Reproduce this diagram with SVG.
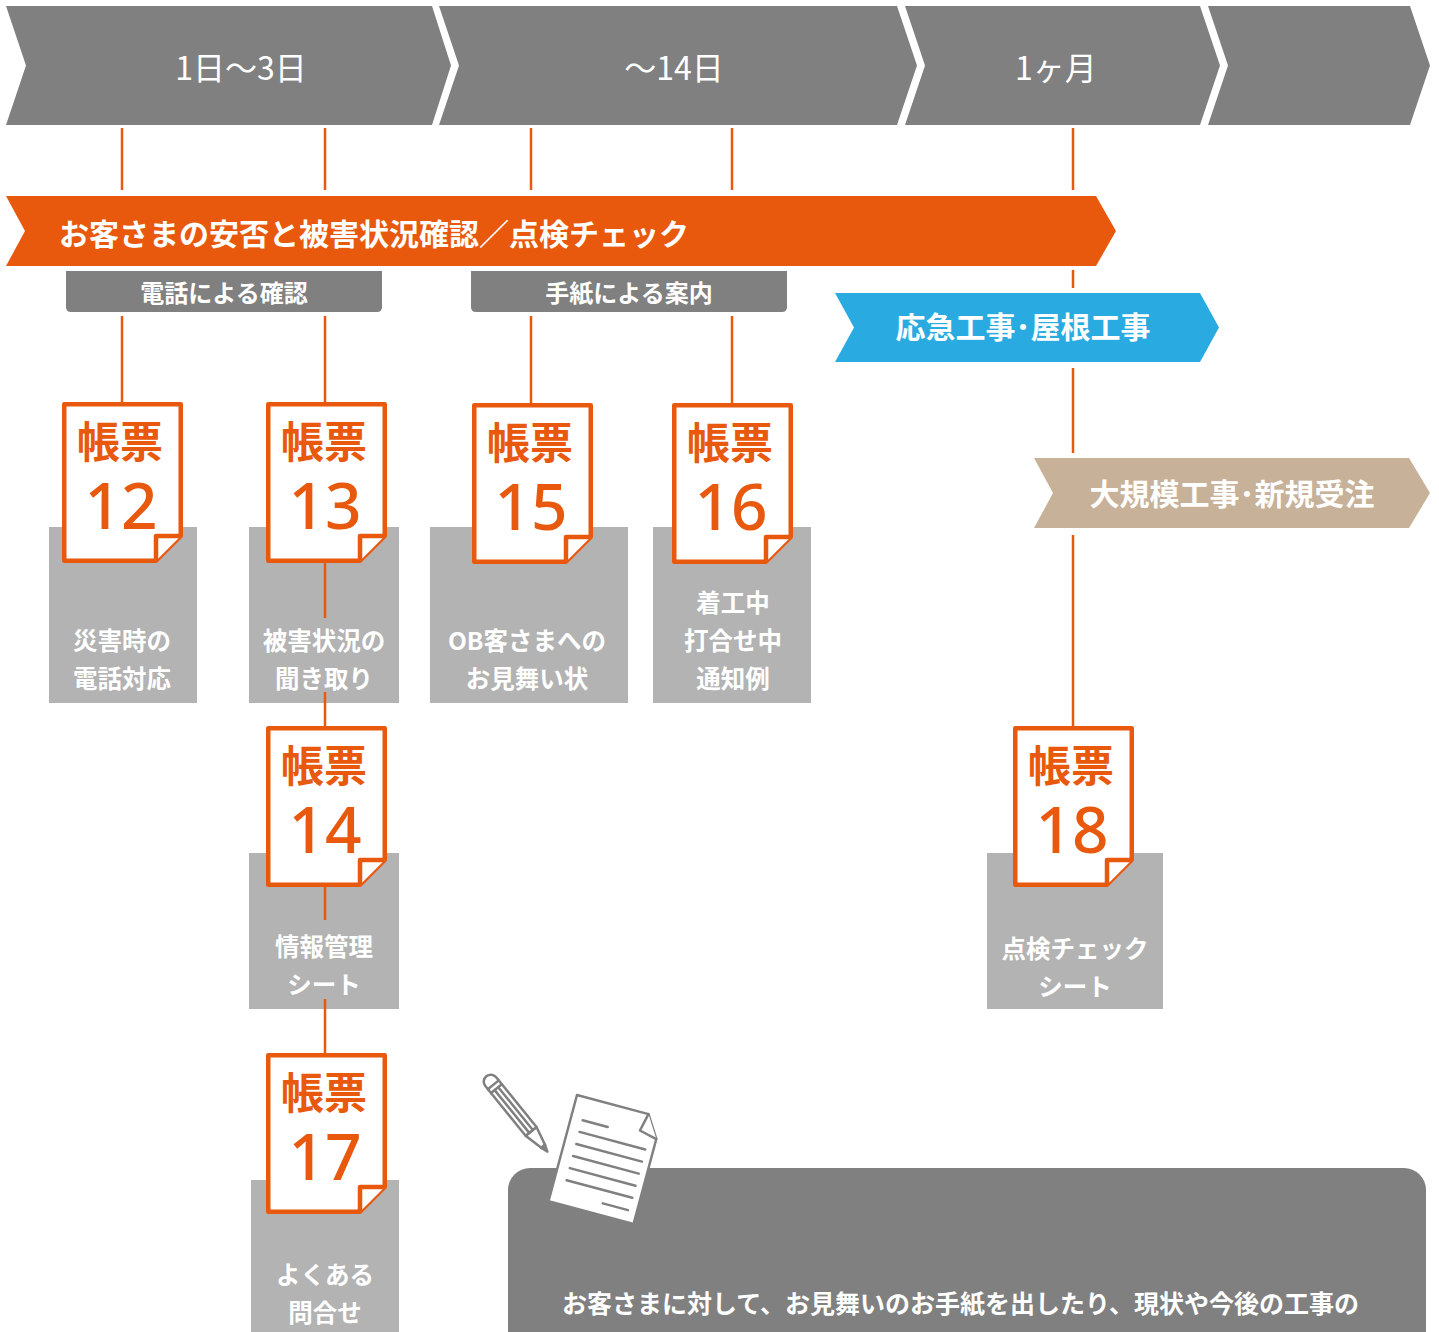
<svg xmlns="http://www.w3.org/2000/svg" width="1439" height="1332" viewBox="0 0 1439 1332">
  <style>
    text { font-family: "Noto Sans CJK JP", "Noto Sans", "Liberation Sans", sans-serif; }
    .phase { fill: #808080; }
    .phase-t { fill: #ffffff; font-size: 32px; font-weight: 400; text-anchor: middle; }
    .band-t { fill: #ffffff; font-size: 30px; font-weight: 700; }
    .label { fill: #808080; }
    .label-t { fill: #ffffff; font-size: 24px; font-weight: 700; text-anchor: middle; }
    .desc { fill: #b3b3b3; }
    .desc-t { fill: #ffffff; font-size: 24.5px; font-weight: 600; text-anchor: middle; }
    .doc { fill: #ffffff; stroke: #e8590d; stroke-width: 4.5; stroke-linejoin: round; }
    .doc-h { fill: #e8590d; font-size: 43px; font-weight: 700; text-anchor: middle; }
    .doc-n { fill: #e8590d; font-size: 64px; font-weight: 500; text-anchor: middle; font-family: "Noto Sans", "Liberation Sans", sans-serif; }
    .link { stroke: #e8590d; stroke-width: 2.5; fill: none; }
    .ink { stroke: #808080; stroke-width: 2.5; stroke-linejoin: round; stroke-linecap: round; }
  </style>
  <defs>
    <!-- form sheet with folded bottom-right corner, 121 x 161 -->
    <g id="sheet">
      <path class="doc" d="M2.25,2.25 H118.75 V134 L94,158.75 H2.25 Z"/>
      <path class="doc" d="M118.75,134 H94 V158.75"/>
    </g>
  </defs>

  <rect width="1439" height="1332" fill="#ffffff"/>

  <!-- time axis -->
  <g id="phase-1">
    <path class="phase" d="M6,6 H432 L451,65.5 L432,125 H6 L26,65.5 Z"/>
    <text class="phase-t" x="241" y="80">1日〜3日</text>
  </g>
  <g id="phase-2">
    <path class="phase" d="M439,6 H897 L917,65.5 L897,125 H439 L459,65.5 Z"/>
    <text class="phase-t" x="674" y="80">〜14日</text>
  </g>
  <g id="phase-3">
    <path class="phase" d="M905,6 H1200 L1220,65.5 L1200,125 H905 L925,65.5 Z"/>
    <text class="phase-t" x="1056" y="80">1ヶ月</text>
  </g>
  <g id="phase-4">
    <path class="phase" d="M1208,6 H1410 L1430,65.5 L1410,125 H1208 L1228,65.5 Z"/>
  </g>

  <!-- main task band -->
  <g id="band-check">
    <path fill="#e8590d" d="M6,196 H1096 L1116,231 L1096,266 H6 L25,231 Z"/>
    <text class="band-t" x="59" y="245">お客さまの安否と被害状況確認／点検チェック</text>
  </g>

  <g id="label-phone">
    <path class="label" d="M66,271 H382 V307 Q382,312 377,312 H71 Q66,312 66,307 Z"/>
    <text class="label-t" x="224" y="302">電話による確認</text>
  </g>
  <g id="label-letter">
    <path class="label" d="M471,271 H787 V307 Q787,312 782,312 H476 Q471,312 471,307 Z"/>
    <text class="label-t" x="629" y="302">手紙による案内</text>
  </g>

  <g id="band-emergency">
    <path fill="#29abe2" d="M835,293 H1200 L1219,327.5 L1200,362 H835 L854,327.5 Z"/>
    <text class="band-t" x="1023" y="338" text-anchor="middle">応急工事･屋根工事</text>
  </g>
  <g id="band-large">
    <path fill="#c7b199" d="M1034,458 H1409 L1430,493 L1409,528 H1034 L1053,493 Z"/>
    <text class="band-t" x="1232" y="505" text-anchor="middle">大規模工事･新規受注</text>
  </g>

  <!-- forms -->
  <g id="form-12">
    <rect class="desc" x="49" y="527" width="148" height="176"/>
    <use href="#sheet" x="62" y="402"/>
    <text class="doc-h" x="120" y="458">帳票</text>
    <text class="doc-n" x="121" y="529">12</text>
    <text class="desc-t" x="122" y="650">災害時の</text>
    <text class="desc-t" x="122" y="688">電話対応</text>
  </g>
  <g id="form-13">
    <rect class="desc" x="249" y="527" width="150" height="176"/>
    <use href="#sheet" x="266" y="402"/>
    <text class="doc-h" x="324" y="458">帳票</text>
    <text class="doc-n" x="325" y="529">13</text>
    <text class="desc-t" x="324" y="650">被害状況の</text>
    <text class="desc-t" x="324" y="688">聞き取り</text>
  </g>
  <g id="form-15">
    <rect class="desc" x="430" y="527" width="198" height="176"/>
    <use href="#sheet" x="472" y="403"/>
    <text class="doc-h" x="530" y="459">帳票</text>
    <text class="doc-n" x="531" y="530">15</text>
    <text class="desc-t" x="527" y="650">OB客さまへの</text>
    <text class="desc-t" x="527" y="688">お見舞い状</text>
  </g>
  <g id="form-16">
    <rect class="desc" x="653" y="527" width="158" height="176"/>
    <use href="#sheet" x="672" y="403"/>
    <text class="doc-h" x="730" y="459">帳票</text>
    <text class="doc-n" x="731" y="530">16</text>
    <text class="desc-t" x="733" y="612">着工中</text>
    <text class="desc-t" x="733" y="650">打合せ中</text>
    <text class="desc-t" x="733" y="688">通知例</text>
  </g>
  <g id="form-14">
    <rect class="desc" x="249" y="853" width="150" height="156"/>
    <use href="#sheet" x="266" y="726"/>
    <text class="doc-h" x="324" y="782">帳票</text>
    <text class="doc-n" x="325" y="853">14</text>
    <text class="desc-t" x="324" y="956">情報管理</text>
    <text class="desc-t" x="324" y="994">シート</text>
  </g>
  <g id="form-17">
    <rect class="desc" x="251" y="1180" width="148" height="152"/>
    <use href="#sheet" x="266" y="1053"/>
    <text class="doc-h" x="324" y="1109">帳票</text>
    <text class="doc-n" x="325" y="1180">17</text>
    <text class="desc-t" x="325" y="1284">よくある</text>
    <text class="desc-t" x="325" y="1322">問合せ</text>
  </g>
  <g id="form-18">
    <rect class="desc" x="987" y="853" width="176" height="156"/>
    <use href="#sheet" x="1013" y="726"/>
    <text class="doc-h" x="1071" y="782">帳票</text>
    <text class="doc-n" x="1072" y="853">18</text>
    <text class="desc-t" x="1075" y="958">点検チェック</text>
    <text class="desc-t" x="1075" y="996">シート</text>
  </g>

  <!-- note panel with letter and pencil -->
  <g id="note">
    <rect x="508" y="1168" width="918" height="200" rx="22" fill="#808080"/>
    <text x="562" y="1313" fill="#ffffff" font-size="25" font-weight="600">お客さまに対して、お見舞いのお手紙を出したり、現状や今後の工事の</text>
  </g>
  <g id="letter" transform="translate(577,1095) rotate(15)">
    <path class="ink" fill="#ffffff" d="M0,0 H74 L88,22 V110 H0 Z"/>
    <path class="ink" fill="#ffffff" d="M74,0 L70,18 L88,22"/>
    <g class="ink" stroke-width="2">
      <line x1="12" y1="23" x2="38" y2="23"/>
      <line x1="12" y1="35" x2="80" y2="35"/>
      <line x1="12" y1="47.5" x2="80" y2="47.5"/>
      <line x1="12" y1="60" x2="80" y2="60"/>
      <line x1="12" y1="72.5" x2="80" y2="72.5"/>
      <line x1="12" y1="85" x2="80" y2="85"/>
      <line x1="53" y1="98" x2="79" y2="98"/>
    </g>
  </g>
  <g id="pencil" transform="translate(487,1077) rotate(51)">
    <path class="ink" fill="#ffffff" d="M70,-7 L90,-2.2 L90,2.2 L70,7 Z"/>
    <path class="ink" fill="#ffffff" d="M6,-7 H70 V7 H6 A7,7 0 0 1 6,-7 Z"/>
    <line class="ink" x1="10" y1="-7" x2="10" y2="7"/>
    <line class="ink" x1="15" y1="-7" x2="15" y2="7"/>
    <line class="ink" x1="15" y1="-2.3" x2="70" y2="-2.3"/>
    <line class="ink" x1="15" y1="2.3" x2="70" y2="2.3"/>
    <path fill="#808080" class="ink" d="M89,-2.4 L96,0 L89,2.4 Z"/>
  </g>

  <!-- connectors -->
  <g id="connectors" class="link">
    <line x1="122" y1="128" x2="122" y2="190"/>
    <line x1="325" y1="128" x2="325" y2="190"/>
    <line x1="531" y1="128" x2="531" y2="190"/>
    <line x1="732" y1="128" x2="732" y2="190"/>
    <line x1="1073" y1="128" x2="1073" y2="190"/>
    <line x1="122" y1="316" x2="122" y2="403"/>
    <line x1="325" y1="316" x2="325" y2="403"/>
    <line x1="531" y1="316" x2="531" y2="404"/>
    <line x1="732" y1="316" x2="732" y2="404"/>
    <line x1="325" y1="563" x2="325" y2="618"/>
    <line x1="325" y1="692" x2="325" y2="727"/>
    <line x1="325" y1="887" x2="325" y2="920"/>
    <line x1="325" y1="999" x2="325" y2="1054"/>
    <line x1="1073" y1="270" x2="1073" y2="288"/>
    <line x1="1073" y1="368" x2="1073" y2="453"/>
    <line x1="1073" y1="535" x2="1073" y2="727"/>
  </g>
</svg>
